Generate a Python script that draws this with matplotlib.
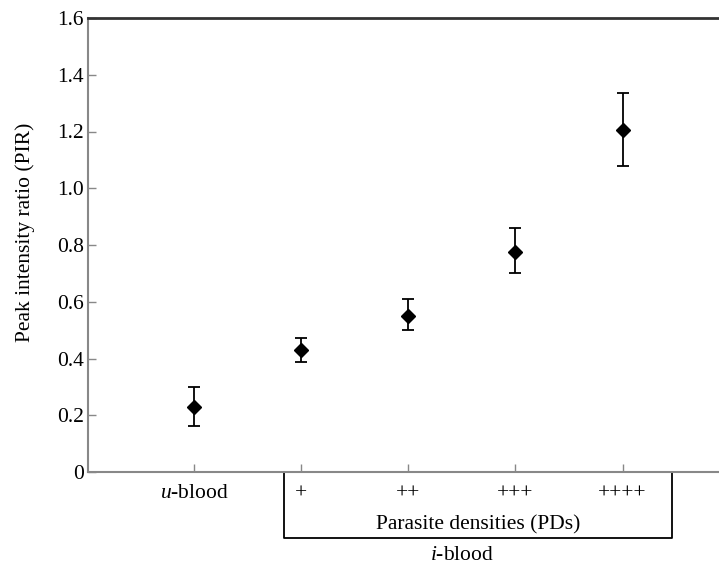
import numpy as np
import matplotlib
matplotlib.use("Agg")
import matplotlib.pyplot as plt

plt.rcParams['font.family'] = ['Liberation Serif', 'DejaVu Serif']
plt.rcParams['mathtext.fontset'] = 'custom'
plt.rcParams['mathtext.rm'] = 'Liberation Serif'
plt.rcParams['mathtext.it'] = 'Liberation Serif:italic'

# data
groups = ["$\\mathit{u}$-blood", "+", "++", "+++", "++++"]
pir = [0.23, 0.43, 0.55, 0.777, 1.207]
err_low = [0.068, 0.043, 0.051, 0.077, 0.129]
err_high = [0.070, 0.043, 0.059, 0.084, 0.128]
yticks = [0, 0.2, 0.4, 0.6, 0.8, 1.0, 1.2, 1.4, 1.6]
ylabels = ["0", "0.2", "0.4", "0.6", "0.8", "1.0", "1.2", "1.4", "1.6"]

x = np.arange(1, len(groups) + 1)
fs = 15.5

fig = plt.figure(figsize=(7.19, 5.65), dpi=100)
ax = fig.add_axes([88 / 719, 93 / 565, 1 - 88 / 719, 454 / 565])

ax.errorbar(x, pir, yerr=[err_low, err_high], fmt='D', color='black',
            markersize=7, ecolor='black', elinewidth=1.3, capsize=4,
            capthick=1.3)

ax.set_xlim(0.01, 5.9)
ax.set_ylim(0, 1.6)
ax.set_xticks(x)
ax.set_xticklabels(groups, fontsize=fs)
ax.set_yticks(yticks)
ax.set_yticklabels(ylabels, fontsize=fs)
ax.tick_params(axis='both', direction='in', length=6, width=1, color='#888888')
ax.tick_params(axis='x', pad=9)
ax.tick_params(axis='y', pad=3)

for s in ['left', 'bottom']:
    ax.spines[s].set_color('#888888')
    ax.spines[s].set_linewidth(1.5)
ax.spines['right'].set_visible(False)
ax.spines['top'].set_color('#333333')
ax.spines['top'].set_linewidth(2)

fig.text(25 / 719, 1 - 232 / 565, "Peak intensity ratio (PIR)", rotation=90,
         ha='center', va='center', fontsize=fs)

# bracket below the i-blood groups
tr = ax.get_xaxis_transform()
bx = [1.84, 1.84, 5.46, 5.46]
by = [0, -0.145, -0.145, 0]
ax.plot(bx, by, color='black', linewidth=1.3, transform=tr, clip_on=False)
ax.text(3.65, -0.117, "Parasite densities (PDs)", transform=tr, ha='center',
        va='center', fontsize=fs)
ax.text(3.5, -0.183, "$\\mathit{i}$-blood", transform=tr, ha='center',
        va='center', fontsize=fs)

fig.savefig("out.png", dpi=100)
